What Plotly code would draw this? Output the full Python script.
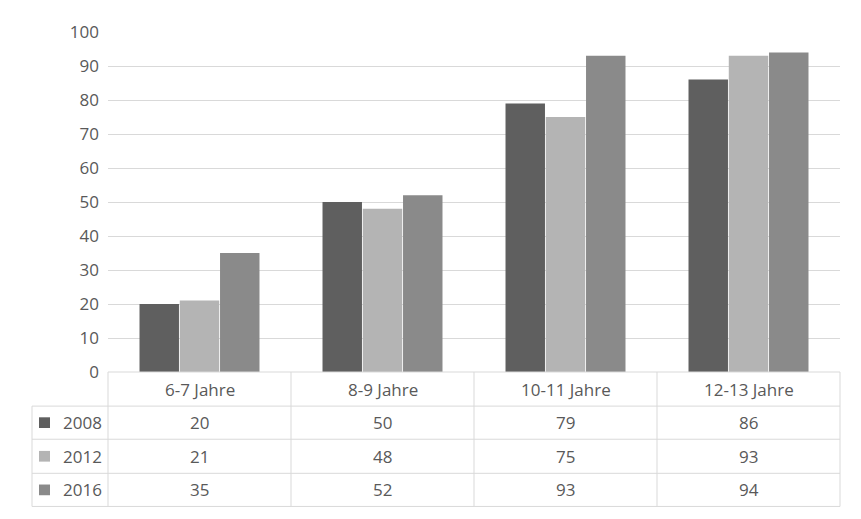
import plotly.graph_objects as go

categories = ["6-7 Jahre", "8-9 Jahre", "10-11 Jahre", "12-13 Jahre"]
series_names = ["2008", "2012", "2016"]
v2008 = [20, 50, 79, 86]
v2012 = [21, 48, 75, 93]
v2016 = [35, 52, 93, 94]
values = [v2008, v2012, v2016]
colors = ["#5f5f5f", "#b4b4b4", "#8a8a8a"]

fig = go.Figure()
for name, vals, c in zip(series_names, values, colors):
    fig.add_bar(x=categories, y=vals, name=name, marker_color=c, marker_line_width=0)

H = 349.0
def py(pix):
    return (372 - pix) / H
def px(pix):
    return (pix - 108) / 732.0

lc = "#d9d9d9"
shapes = []
rows = [372, 407, 441, 476, 510]
for i, r in enumerate(rows):
    x0 = 108 if i == 0 else 32
    shapes.append(dict(type="line", xref="paper", yref="paper", x0=px(x0), x1=1, y0=py(r), y1=py(r), line=dict(color=lc, width=1)))
for xb in [108, 291, 474, 657, 840]:
    shapes.append(dict(type="line", xref="paper", yref="paper", x0=px(xb), x1=px(xb), y0=py(372), y1=py(510), line=dict(color=lc, width=1)))
shapes.append(dict(type="line", xref="paper", yref="paper", x0=px(32), x1=px(32), y0=py(407), y1=py(510), line=dict(color=lc, width=1)))

ann = []
font = dict(family="Open Sans, Liberation Sans, sans-serif", size=17, color="#595959")
def note(x, y, text, xanchor="center"):
    ann.append(dict(xref="paper", yref="paper", x=x, y=y, text=text, showarrow=False,
                    xanchor=xanchor, yanchor="middle", font=font))
for j, cat in enumerate(categories):
    note((j + 0.5) / 4, py(389.5), cat)
rowc = [424, 458.5, 493]
for i, (name, vals, c) in enumerate(zip(series_names, values, colors)):
    yc = rowc[i]
    shapes.append(dict(type="rect", xref="paper", yref="paper", x0=px(39), x1=px(50), y0=py(yc + 5.5), y1=py(yc - 5.5), fillcolor=c, line=dict(width=0)))
    note(px(104), py(yc), name, "right")
    for j, v in enumerate(vals):
        note((j + 0.5) / 4, py(yc), str(v))

fig.update_layout(
    width=861, height=519, margin=dict(l=100, r=29, t=15, b=155),
    paper_bgcolor="white", plot_bgcolor="white",
    barmode="group", bargap=0.34, bargroupgap=0.02, showlegend=False,
    xaxis=dict(showticklabels=False, showline=False, ticks=""),
    yaxis=dict(range=[0, 100], dtick=10, gridcolor=lc, zeroline=False, showline=False,
               tickfont=font, ticks="", ticklabelstandoff=8),
    shapes=shapes, annotations=ann,
)
fig.write_html("out.html")
